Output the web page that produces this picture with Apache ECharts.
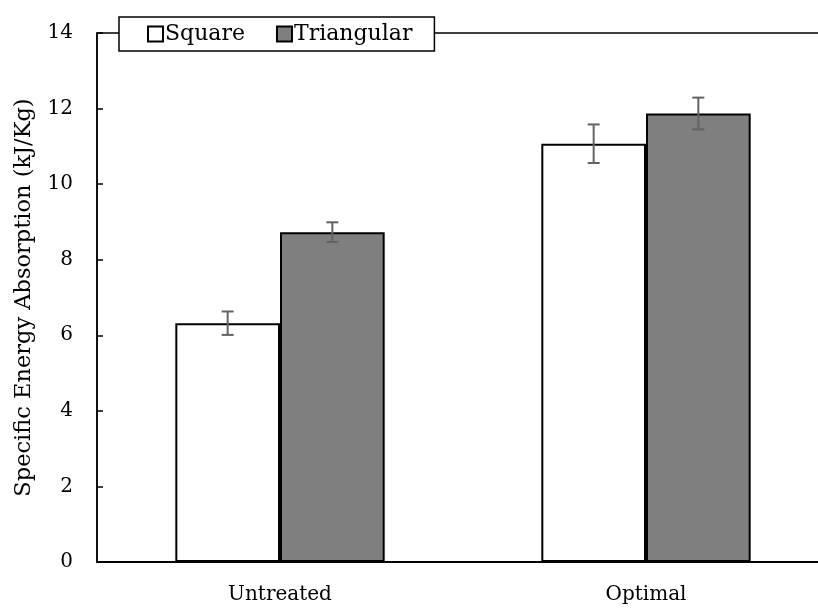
<!DOCTYPE html>
<html><head><meta charset="utf-8">
<script src="https://cdn.jsdelivr.net/npm/echarts@6/dist/echarts.min.js"></script>
<style>html,body{margin:0;padding:0;background:#fff;overflow:hidden;width:818px;height:609px}#c{width:829px;height:609px}</style>
</head><body><div id="c"></div>
<script>
var categories = ['Untreated', 'Optimal'];
var squareValues = [6.32, 11.07];
var squareErrors = [0.31, 0.51];
var triangularValues = [8.73, 11.87];
var triangularErrors = [0.26, 0.42];
var yTicks = [0, 2, 4, 6, 8, 10, 12, 14];

var FONT = '"DejaVu Serif", "Liberation Serif", serif';
var BARW = 0.286;

function errSeries(vals, errs, side) {
  var data = vals.map(function (v, i) { return [i, v, errs[i]]; });
  return {
    type: 'custom', z: 10, silent: true,
    renderItem: function (params, api) {
      var i = api.value(0), v = api.value(1), e = api.value(2);
      var band = api.size([1, 0])[0];
      var off = side * band * BARW / 2;
      var top = api.coord([i, v + e]), bot = api.coord([i, v - e]);
      var x = top[0] + off, hw = 6;
      var st = { stroke: '#636363', lineWidth: 2 };
      return { type: 'group', children: [
        { type: 'line', shape: { x1: x, y1: top[1], x2: x, y2: bot[1] }, style: st },
        { type: 'line', shape: { x1: x - hw, y1: top[1], x2: x + hw, y2: top[1] }, style: st },
        { type: 'line', shape: { x1: x - hw, y1: bot[1], x2: x + hw, y2: bot[1] }, style: st }
      ]};
    },
    data: data
  };
}

var chart = echarts.init(document.getElementById('c'));
chart.setOption({
  animation: false,
  textStyle: { fontFamily: FONT },
  grid: { left: 97, right: 0, top: 33, bottom: 47, show: true, borderColor: '#000', borderWidth: 1.5 },
  legend: {
    left: 119, top: 17, itemGap: 31, itemWidth: 15, itemHeight: 15,
    padding: [6, 22, 6, 28],
    icon: 'rect',
    backgroundColor: '#fff', borderColor: '#000', borderWidth: 1.5,
    textStyle: { fontFamily: FONT, fontSize: 22, color: '#000', padding: [0, 0, 0, -3] },
    data: ['Square', 'Triangular']
  },
  xAxis: {
    type: 'category', data: categories,
    axisLine: { lineStyle: { color: '#000', width: 2 } },
    axisTick: { inside: true, length: 6, lineStyle: { color: '#000', width: 1.5 } },
    axisLabel: { fontFamily: FONT, fontSize: 20, color: '#000', margin: 23 }
  },
  yAxis: {
    type: 'value', min: 0, max: 14, interval: 2,
    name: 'Specific Energy Absorption (kJ/Kg)', nameLocation: 'middle', nameGap: 61,
    nameTextStyle: { fontFamily: FONT, fontSize: 22.5, color: '#000' },
    axisLine: { show: true, lineStyle: { color: '#000', width: 1.5 } },
    axisTick: { show: true, inside: true, length: 6, lineStyle: { color: '#000', width: 1.5 } },
    splitLine: { show: false },
    axisLabel: { fontFamily: FONT, fontSize: 20, color: '#000', margin: 24,
      formatter: function (v) { return yTicks.indexOf(v) >= 0 ? String(v) : ''; } }
  },
  series: [
    { name: 'Square', type: 'bar', data: squareValues, barWidth: (BARW * 100) + '%', barGap: '0%',
      itemStyle: { color: '#fff', borderColor: '#000', borderWidth: 2 } },
    { name: 'Triangular', type: 'bar', data: triangularValues, barWidth: (BARW * 100) + '%', barGap: '0%',
      itemStyle: { color: '#7f7f7f', borderColor: '#000', borderWidth: 2 } },
    errSeries(squareValues, squareErrors, -1),
    errSeries(triangularValues, triangularErrors, 1)
  ]
});
</script></body></html>
